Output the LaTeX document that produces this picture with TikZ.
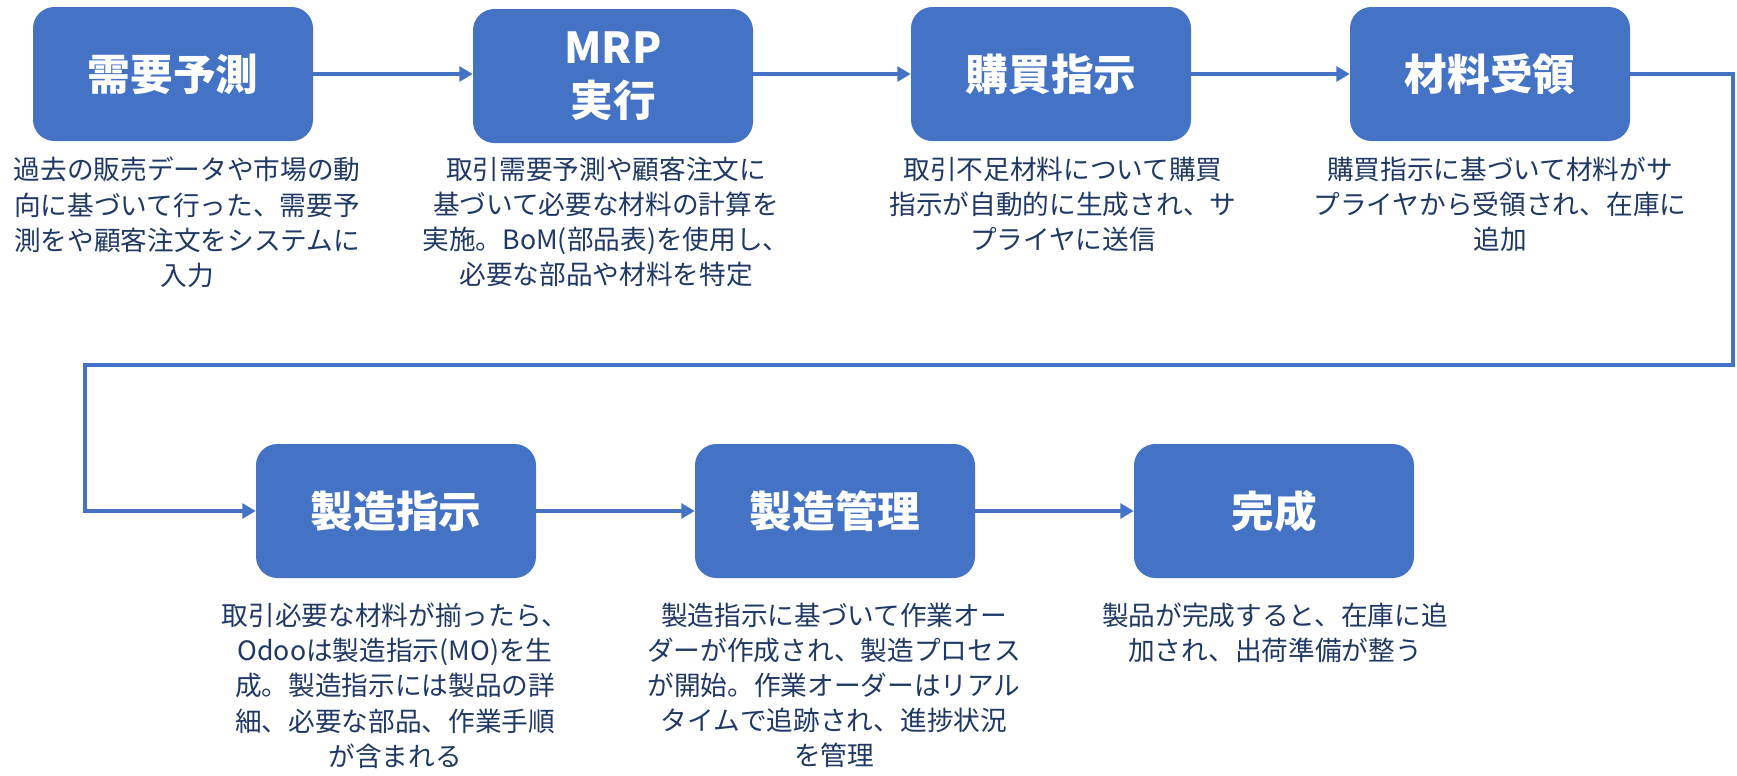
\documentclass[tikz,border=0pt]{standalone}
\usepackage{fontspec}
\setmainfont{Noto Sans CJK JP}
\usetikzlibrary{arrows.meta}
\definecolor{boxblue}{HTML}{4472C4}
\definecolor{desctext}{HTML}{1F3864}
\begin{document}
\begin{tikzpicture}[x=0.75pt,y=-0.75pt,
  stepbox/.style={draw=none,fill=boxblue,rounded corners=16pt,minimum width=210pt,minimum height=100.5pt,
    text=white,font=\fontsize{32}{38}\selectfont\bfseries,align=center,inner sep=0pt},
  desc/.style={text=desctext,font=\fontsize{20}{26.3}\selectfont,align=center,anchor=north,inner sep=0pt},
  conn/.style={draw=boxblue,line width=2.6pt,-{Triangle[length=10pt,width=11pt]}}]
\useasboundingbox (0,0) rectangle (1737,775);
\node[stepbox] (b1) at (173,74) {需要予測};
\node[stepbox] (b2) at (613,76) {MRP\\[2pt]実行};
\node[stepbox] (b3) at (1051,74) {購買指示};
\node[stepbox] (b4) at (1490,74) {材料受領};
\node[stepbox] (b5) at (396,511) {製造指示};
\node[stepbox] (b6) at (835,511) {製造管理};
\node[stepbox] (b7) at (1274,511) {完成};
\node[desc] (d1) at (187,157) {過去の販売データや市場の動\\向に基づいて行った、需要予\\測をや顧客注文をシステムに\\入力};
\node[desc] (d2) at (606,157) {取引需要予測や顧客注文に\\基づいて必要な材料の計算を\\実施。BoM(部品表)を使用し、\\必要な部品や材料を特定};
\node[desc] (d3) at (1063,157) {取引不足材料について購買\\指示が自動的に生成され、サ\\プライヤに送信};
\node[desc] (d4) at (1500,157) {購買指示に基づいて材料がサ\\プライヤから受領され、在庫に\\追加};
\node[desc] (d5) at (395,603) {取引必要な材料が揃ったら、\\Odooは製造指示(MO)を生\\成。製造指示には製品の詳\\細、必要な部品、作業手順\\が含まれる};
\node[desc] (d6) at (834,603) {製造指示に基づいて作業オー\\ダーが作成され、製造プロセス\\が開始。作業オーダーはリアル\\タイムで追跡され、進捗状況\\を管理};
\node[desc] (d7) at (1275,603) {製品が完成すると、在庫に追\\加され、出荷準備が整う};
\coordinate (c1) at (1733,365);
\coordinate (c2) at (85,365);
\draw[conn] (b1) -- (b2.west |- b1);
\draw[conn] (b2.east |- b1) -- (b3);
\draw[conn] (b3) -- (b4);
\draw[conn] (b4.east) -| (c1) -- (c2) |- (b5.west);
\draw[conn] (b5) -- (b6);
\draw[conn] (b6) -- (b7);
\end{tikzpicture}
\end{document}
